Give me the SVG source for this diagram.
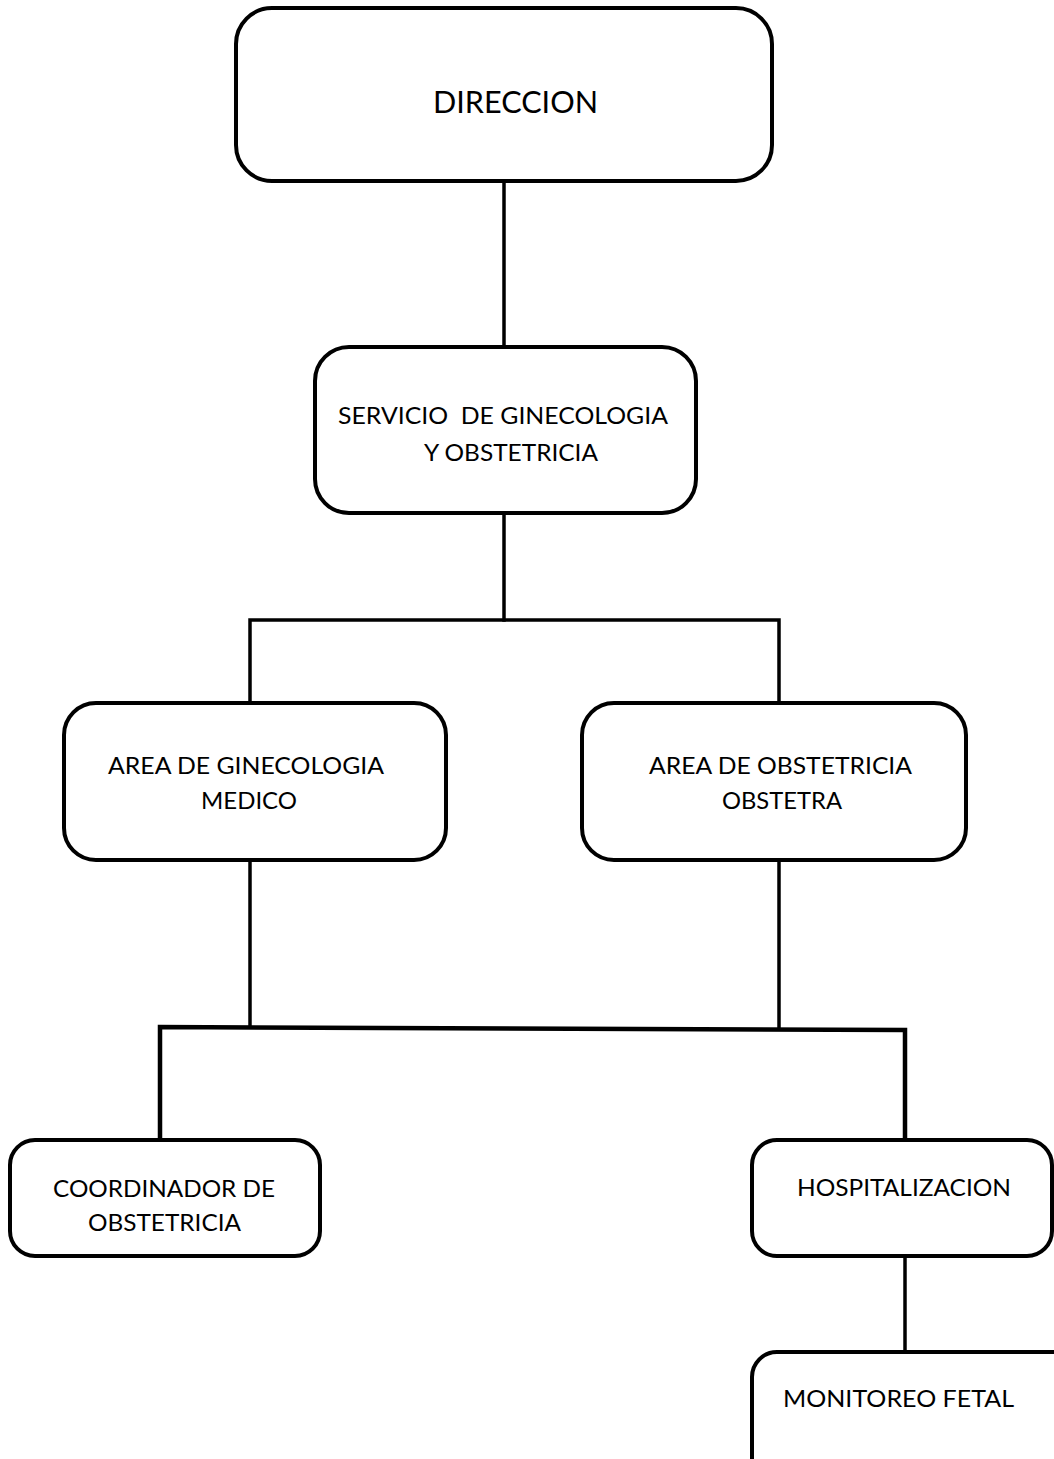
<svg xmlns="http://www.w3.org/2000/svg" width="1054" height="1459" viewBox="0 0 1054 1459">
  <style>
    .box { fill: #ffffff; stroke: #000000; stroke-width: 4; }
    .link { fill: none; stroke: #000000; stroke-width: 3.5; stroke-linecap: square; }
    .label { font-family: Lato, "Liberation Sans", sans-serif; font-size: 23px; fill: #000000; }
    .title { font-size: 31px; }
  </style>
  <rect width="1054" height="1459" fill="#ffffff"/>

  <!-- connectors -->
  <g id="connectors">
    <path class="link" d="M504 181 V347"/>
    <path class="link" d="M504 513 V620"/>
    <path class="link" d="M250 703 V620 H779 V703"/>
    <path class="link" d="M250 860 V1027"/>
    <path class="link" d="M779 860 V1028"/>
    <path class="link" style="stroke-width:4.5" d="M160 1140 V1027 L905 1030 V1140"/>
    <path class="link" d="M905 1257 V1352"/>
  </g>

  <g id="direccion">
    <rect class="box" x="236" y="8" width="536" height="173" rx="36"/>
    <text class="label title" x="433" y="113" textLength="165" lengthAdjust="spacingAndGlyphs">DIRECCION</text>
  </g>

  <g id="servicio">
    <rect class="box" x="315" y="347" width="381" height="166" rx="34"/>
    <text class="label" x="338" y="424" xml:space="preserve" textLength="330" lengthAdjust="spacingAndGlyphs">SERVICIO  DE GINECOLOGIA</text>
    <text class="label" x="424" y="461" textLength="174" lengthAdjust="spacingAndGlyphs">Y OBSTETRICIA</text>
  </g>

  <g id="area-ginecologia">
    <rect class="box" x="64" y="703" width="382" height="157" rx="32"/>
    <text class="label" x="108" y="774" textLength="276" lengthAdjust="spacingAndGlyphs">AREA DE GINECOLOGIA</text>
    <text class="label" x="201" y="809" textLength="96" lengthAdjust="spacingAndGlyphs">MEDICO</text>
  </g>

  <g id="area-obstetricia">
    <rect class="box" x="582" y="703" width="384" height="157" rx="32"/>
    <text class="label" x="649" y="774" textLength="263" lengthAdjust="spacingAndGlyphs">AREA DE OBSTETRICIA</text>
    <text class="label" x="722" y="809" textLength="120" lengthAdjust="spacingAndGlyphs">OBSTETRA</text>
  </g>

  <g id="coordinador">
    <rect class="box" x="10" y="1140" width="310" height="116" rx="25"/>
    <text class="label" x="53" y="1197" textLength="222" lengthAdjust="spacingAndGlyphs">COORDINADOR DE</text>
    <text class="label" x="88" y="1231" textLength="153" lengthAdjust="spacingAndGlyphs">OBSTETRICIA</text>
  </g>

  <g id="hospitalizacion">
    <rect class="box" x="752" y="1140" width="300" height="116" rx="25"/>
    <text class="label" x="797" y="1196" textLength="214" lengthAdjust="spacingAndGlyphs">HOSPITALIZACION</text>
  </g>

  <g id="monitoreo">
    <rect class="box" x="752" y="1352" width="325" height="170" rx="25"/>
    <text class="label" x="783" y="1407" textLength="231" lengthAdjust="spacingAndGlyphs">MONITOREO FETAL</text>
  </g>
</svg>
